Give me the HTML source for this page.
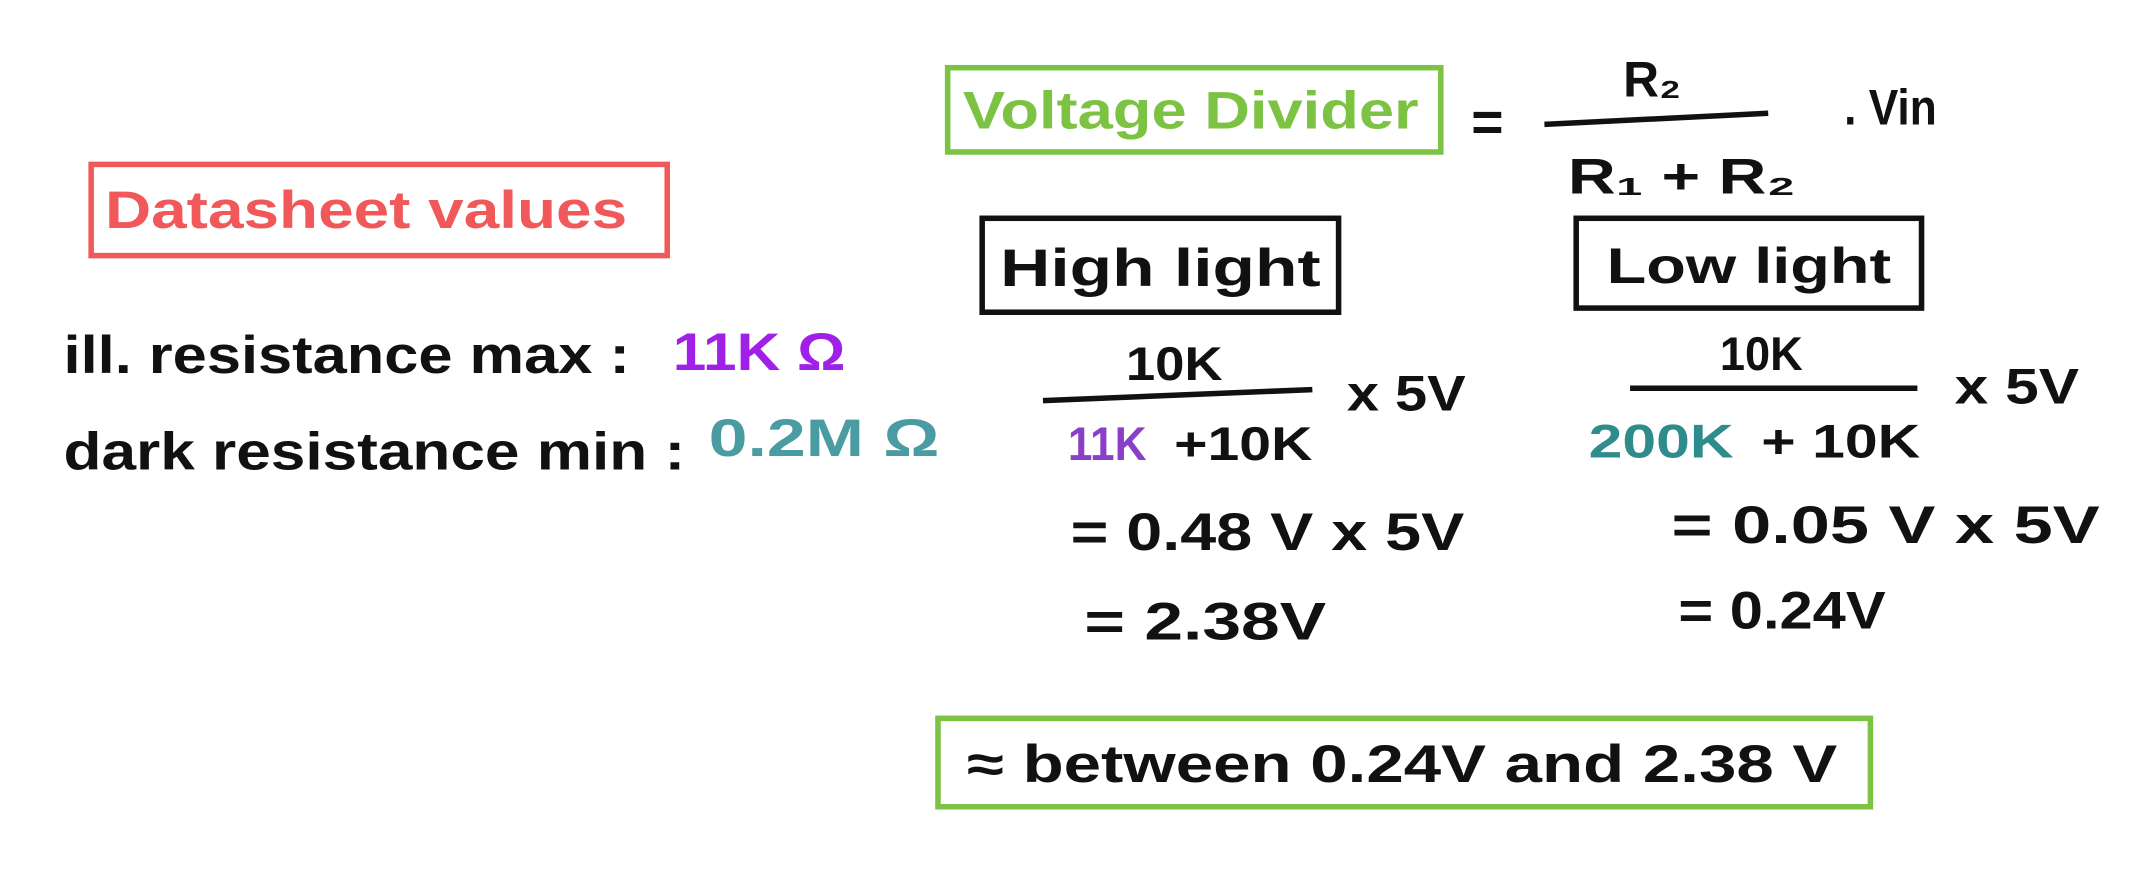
<!DOCTYPE html>
<html><head><meta charset="utf-8"><style>
html,body{margin:0;padding:0;background:#fff;}
svg{display:block;}
text{font-family:"Liberation Sans",sans-serif;font-weight:bold;}
</style></head><body>
<svg width="2155" height="872" viewBox="0 0 1560 631.2" xmlns="http://www.w3.org/2000/svg">
<rect width="1560" height="631.2" fill="#fff"/>
<g>
<rect x="66" y="119" width="417" height="66" fill="none" stroke="#f0585a" stroke-width="4"/>
<text x="76" y="165" font-size="38" fill="#f0585a" textLength="378" lengthAdjust="spacingAndGlyphs">Datasheet values</text>
</g>
<text x="46" y="270" font-size="38" fill="#111" textLength="410" lengthAdjust="spacingAndGlyphs">ill. resistance max :</text>
<text x="487" y="268" font-size="38" fill="#a020e8" textLength="125" lengthAdjust="spacingAndGlyphs">11K Ω</text>
<text x="46" y="340" font-size="38" fill="#111" textLength="450" lengthAdjust="spacingAndGlyphs">dark resistance min :</text>
<text x="513" y="330" font-size="38" fill="#4a9ba2" textLength="167" lengthAdjust="spacingAndGlyphs">0.2M Ω</text>

<g>
<rect x="686" y="49" width="357" height="61" fill="none" stroke="#7cc243" stroke-width="4"/>
<text x="697" y="93" font-size="38" fill="#7cc243" textLength="330" lengthAdjust="spacingAndGlyphs">Voltage Divider</text>
</g>
<g>
<text x="1065" y="102" font-size="40" fill="#111">=</text>
<line x1="1118" y1="90" x2="1280" y2="82" stroke="#111" stroke-width="4"/>
<text x="1175" y="70" font-size="36" fill="#111">R₂</text>
<text x="1135" y="140" font-size="36" fill="#111" textLength="165" lengthAdjust="spacingAndGlyphs">R₁ + R₂</text>
<text x="1335" y="90" font-size="36" fill="#111" textLength="67" lengthAdjust="spacingAndGlyphs">. Vin</text>
</g>

<g>
<rect x="711" y="158" width="258" height="68" fill="none" stroke="#111" stroke-width="4"/>
<text x="724" y="207" font-size="38" fill="#111" textLength="232" lengthAdjust="spacingAndGlyphs">High light</text>
<text x="815" y="275" font-size="34" fill="#111" textLength="70" lengthAdjust="spacingAndGlyphs">10K</text>
<line x1="755" y1="290" x2="950" y2="282" stroke="#111" stroke-width="4"/>
<text x="975" y="297" font-size="36" fill="#111" textLength="86" lengthAdjust="spacingAndGlyphs">x 5V</text>
<text x="773" y="333" font-size="34" fill="#8a3fc8" textLength="57" lengthAdjust="spacingAndGlyphs">11K</text>
<text x="850" y="333" font-size="34" fill="#111" textLength="100" lengthAdjust="spacingAndGlyphs">+10K</text>
<text x="775" y="398" font-size="38" fill="#111" textLength="285" lengthAdjust="spacingAndGlyphs">= 0.48 V x 5V</text>
<text x="785" y="463" font-size="38" fill="#111" textLength="175" lengthAdjust="spacingAndGlyphs">= 2.38V</text>
</g>

<g>
<rect x="1141" y="158" width="250" height="65" fill="none" stroke="#111" stroke-width="4"/>
<text x="1163" y="205" font-size="36" fill="#111" textLength="206" lengthAdjust="spacingAndGlyphs">Low light</text>
<text x="1245" y="268" font-size="34" fill="#111" textLength="60" lengthAdjust="spacingAndGlyphs">10K</text>
<line x1="1180" y1="281" x2="1388" y2="281" stroke="#111" stroke-width="4"/>
<text x="1415" y="292" font-size="36" fill="#111" textLength="90" lengthAdjust="spacingAndGlyphs">x 5V</text>
<text x="1150" y="331" font-size="34" fill="#2f8c8c" textLength="105" lengthAdjust="spacingAndGlyphs">200K</text>
<text x="1275" y="331" font-size="34" fill="#111" textLength="115" lengthAdjust="spacingAndGlyphs">+ 10K</text>
<text x="1210" y="393" font-size="38" fill="#111" textLength="310" lengthAdjust="spacingAndGlyphs">= 0.05 V x 5V</text>
<text x="1215" y="455" font-size="38" fill="#111" textLength="150" lengthAdjust="spacingAndGlyphs">= 0.24V</text>
</g>

<g>
<rect x="679" y="520" width="675" height="64" fill="none" stroke="#7cc243" stroke-width="4"/>
<text x="700" y="566" font-size="38" fill="#111" textLength="630" lengthAdjust="spacingAndGlyphs">≈ between 0.24V and 2.38 V</text>
</g>
</svg>
</body></html>
